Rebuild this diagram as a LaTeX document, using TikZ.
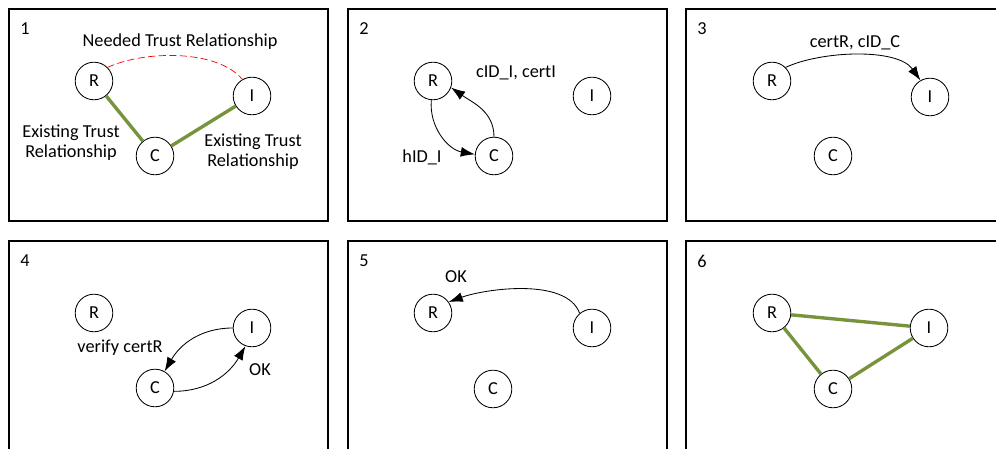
\documentclass[tikz,border=0pt]{standalone}
\usepackage{fontspec}
\setmainfont{Carlito}
\usetikzlibrary{arrows.meta}
\definecolor{trustgreen}{RGB}{119,147,60}

\begin{document}
\begin{tikzpicture}[font=\fontsize{13}{14.2}\selectfont,
    party/.style={circle,draw,line width=0.6pt,minimum size=0.94cm,inner sep=0pt},
    panel/.style={draw,line width=0.8pt},
    trust/.style={draw=trustgreen,line width=2.4pt},
    needed/.style={draw=red,line width=0.5pt,dash pattern=on 5pt off 2.5pt},
    msg/.style={-{Latex[length=10pt,width=7pt]},line width=0.6pt}]

\useasboundingbox (0,0) rectangle (24.9,11.225);
\clip (0,0) rectangle (24.9,11.225);

% 1: the two trust relations that exist, and the one that is needed
\begin{scope}[shift={(0.225,11)}]
\draw[panel] (0,0) rectangle (7.975,-5.3);
\node (n1) at (0.4,-0.5) {1};
\node[party] (r1) at (2.125,-1.8) {R};
\node[party] (i1) at (6.075,-2.175) {I};
\node[party] (c1) at (3.65,-3.675) {C};
\draw[trust] (r1) -- (c1);
\draw[trust] (c1) -- (i1);
\draw[needed] (r1.45) to[out=25,in=130,looseness=0.75] (i1.120);
\node (need1) at (4.275,-0.825) {Needed Trust Relationship};
\node[align=center] (exl1) at (1.55,-3.35) {Existing Trust\\Relationship};
\node[align=center] (exr1) at (6.1,-3.575) {Existing Trust\\Relationship};
\end{scope}

% 2
\begin{scope}[shift={(8.7,11)}]
\draw[panel] (0,0) rectangle (7.975,-5.3);
\node (n2) at (0.4,-0.5) {2};
\node[party] (r2) at (2.125,-1.8) {R};
\node[party] (i2) at (6.1,-2.175) {I};
\node[party] (c2) at (3.65,-3.675) {C};
\draw[msg] (r2.-95) to[out=-95,in=170] (c2.175);
\draw[msg] (c2.north) to[out=90,in=-35] (r2.-20);
\node (cid2) at (4.2,-1.6) {cID\_I, certI};
\node (hid2) at (1.85,-3.7) {hID\_I};
\end{scope}

% 3
\begin{scope}[shift={(17.15,11)}]
\draw[panel] (0,0) rectangle (7.975,-5.3);
\node (n3) at (0.4,-0.5) {3};
\node[party] (r3) at (2.15,-1.8) {R};
\node[party] (i3) at (6.1,-2.2) {I};
\node[party] (c3) at (3.675,-3.675) {C};
\draw[msg] (r3.45) to[out=25,in=125,looseness=0.75] (i3.120);
\node (cert3) at (4.225,-0.85) {certR, cID\_C};
\end{scope}

% 4
\begin{scope}[shift={(0.225,5.2)}]
\draw[panel] (0,0) rectangle (7.975,-5.3);
\node (n4) at (0.4,-0.5) {4};
\node[party] (r4) at (2.125,-1.8) {R};
\node[party] (i4) at (6.075,-2.175) {I};
\node[party] (c4) at (3.65,-3.675) {C};
\draw[msg] (i4.180) to[out=180,in=60] (c4.60);
\draw[msg] (c4.-10) to[out=0,in=-120] (i4.-110);
\node (ver4) at (2.775,-2.675) {verify certR};
\node (ok4) at (6.275,-3.225) {OK};
\end{scope}

% 5
\begin{scope}[shift={(8.7,5.2)}]
\draw[panel] (0,0) rectangle (7.975,-5.3);
\node (n5) at (0.4,-0.5) {5};
\node[party] (r5) at (2.125,-1.8) {R};
\node[party] (i5) at (6.1,-2.175) {I};
\node[party] (c5) at (3.625,-3.7) {C};
\draw[msg] (i5.130) to[out=110,in=20,looseness=0.75] (r5.35);
\node (ok5) at (2.7,-0.9) {OK};
\end{scope}

% 6: all three trust relations in place
\begin{scope}[shift={(17.15,5.2)}]
\draw[panel] (0,0) rectangle (7.975,-5.3);
\node (n6) at (0.4,-0.5) {6};
\node[party] (r6) at (2.15,-1.8) {R};
\node[party] (i6) at (6.075,-2.175) {I};
\node[party] (c6) at (3.675,-3.7) {C};
\draw[trust] (r6) -- (i6);
\draw[trust] (r6) -- (c6);
\draw[trust] (c6) -- (i6);
\end{scope}

\end{tikzpicture}
\end{document}
